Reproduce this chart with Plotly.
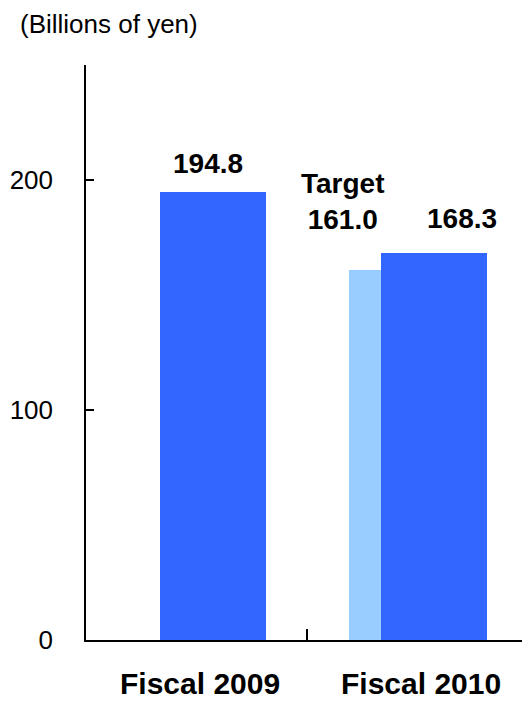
import plotly.graph_objects as go

categories = ["Fiscal 2009", "Fiscal 2010"]
actual = [194.8, 168.3]
target_categories = ["Fiscal 2010"]
target = [161.0]
y_ticks = [0, 100, 200]
unit_label = "(Billions of yen)"

FONT = "Liberation Sans, Arial, sans-serif"
DARK = "#3366FF"
LIGHT = "#99CCFF"

cat_pos = {c: i for i, c in enumerate(categories)}
BAR_W = 0.48
ACT_OFF = 0.075
TGT_OFF = -0.07

fig = go.Figure()
tx = [cat_pos[c] + TGT_OFF for c in target_categories]
ax = [cat_pos[c] + ACT_OFF for c in categories]
fig.add_trace(go.Bar(x=tx, y=target, width=BAR_W, marker=dict(color=LIGHT, line=dict(width=0)),
                     hoverinfo="skip", showlegend=False))
fig.add_trace(go.Bar(x=ax, y=actual, width=BAR_W, marker=dict(color=DARK, line=dict(width=0)),
                     hoverinfo="skip", showlegend=False))

ann = []
# value labels
shifts = [(-5, 28), (28, 34)]
for x, v, (xs, ys) in zip(ax, actual, shifts):
    ann.append(dict(x=x, y=v, xref="x", yref="y", text=f"<b>{v:.1f}</b>", showarrow=False,
                    xanchor="center", yanchor="middle", xshift=xs, yshift=ys,
                    font=dict(family=FONT, size=28, color="black")))
for x, v in zip(tx, target):
    ann.append(dict(x=x, y=v, xref="x", yref="y", text=f"<b>Target</b><br><b>{v:.1f}</b>", showarrow=False,
                    xanchor="center", yanchor="middle", xshift=-59, yshift=68,
                    font=dict(family=FONT, size=28, color="black")))
# category labels
for c in categories:
    ann.append(dict(x=cat_pos[c], y=0, xref="x", yref="paper", text=f"<b>{c}</b>", showarrow=False,
                    xanchor="center", yanchor="middle", xshift=3, yshift=-43,
                    font=dict(family=FONT, size=30, color="black")))
# unit label
ann.append(dict(xref="paper", yref="paper", x=(109 - 86) / 436, y=1 + (65 - 24) / 575,
                xanchor="center", yanchor="middle", text=unit_label, showarrow=False,
                font=dict(family=FONT, size=26, color="black")))

fig.update_layout(
    width=522, height=702,
    margin=dict(l=86, r=0, t=65, b=62),
    paper_bgcolor="white", plot_bgcolor="white",
    barmode="overlay", bargap=0,
    annotations=ann,
    xaxis=dict(range=[-0.5, -0.5 + 436 / 221], tickvals=[0.5], ticktext=[""], ticks="inside",
               ticklen=11, tickwidth=1.5, tickcolor="black", showline=True, linecolor="black",
               linewidth=1.5, showgrid=False, zeroline=False, fixedrange=True),
    yaxis=dict(range=[0, 250], tickvals=y_ticks, ticks="inside", ticklen=8, tickwidth=1.5,
               tickcolor="black", showline=True, linecolor="black", linewidth=1.5,
               showgrid=False, zeroline=False, ticklabelstandoff=26,
               tickfont=dict(family=FONT, size=26, color="black")),
)

fig.write_html("out.html")
